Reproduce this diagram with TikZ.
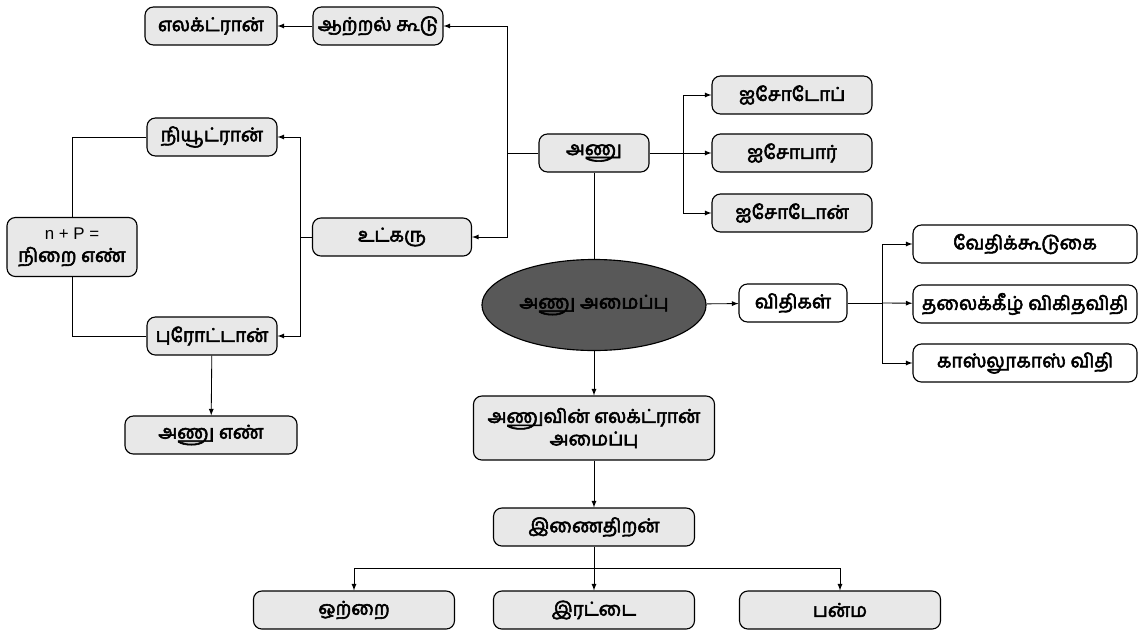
\documentclass[tikz,border=0pt]{standalone}
\usepackage{fontspec}
\newfontfamily\tamil[Script=Tamil,FakeBold=3]{Hind Madurai}
\newfontfamily\lsans{Liberation Sans}
\usetikzlibrary{shapes.geometric}
\definecolor{boxgray}{RGB}{232,232,232}
\definecolor{ovalgray}{RGB}{88,88,88}

\begin{document}
\begin{tikzpicture}[x=0.025cm,y=-0.025cm,>=latex,
  box/.style={draw,rounded corners=6pt,fill=boxgray,line width=0.8pt,
    minimum height=0.95cm,inner sep=2pt,align=center,
    font=\tamil\fontsize{13.5}{16}\selectfont},
  wbox/.style={box,fill=white},
  link/.style={line width=0.6pt}]
\useasboundingbox (0,0) rectangle (1141,632);

% top left
\node[box,minimum width=3.3cm] (elektron) at (211,26) {எலக்ட்ரான்};
\node[box,minimum width=3.25cm] (aatral) at (378,26) {ஆற்றல் கூடு};
\node[box,minimum width=3.25cm] (neutron) at (212,137) {நியூட்ரான்};
\node[box,minimum width=3.975cm] (udkaru) at (392,237) {உட்கரு};
\node[box,minimum width=3.25cm,minimum height=1.475cm] (nplus) at (72,247)
  {{\lsans\fontsize{12}{15}\selectfont n + P =}\\நிறை எண்};
\node[box,minimum width=3.25cm] (proton) at (212,336) {புரோட்டான்};
\node[box,minimum width=4.3cm] (anuen) at (211,435) {அணு எண்};

% centre
\node[box,minimum width=2.75cm] (anu) at (594,153) {அணு};
\node[draw,ellipse,fill=ovalgray,line width=0.8pt,minimum width=5.175cm,
  minimum height=2.275cm,font=\tamil\fontsize{13.5}{16}\selectfont] (struct) at (594,305) {அணு அமைப்பு};

% isotopes
\node[box,minimum width=4cm] (iso1) at (792,95) {ஐசோடோப்};
\node[box,minimum width=4cm] (iso2) at (792,153) {ஐசோபார்};
\node[box,minimum width=4cm] (iso3) at (792,213) {ஐசோடோன்};

% laws
\node[wbox,minimum width=2.7cm] (vithi) at (793,303) {விதிகள்};
\node[wbox,minimum width=5.6cm] (law1) at (1025,244) {வேதிக்கூடுகை};
\node[wbox,minimum width=5.6cm] (law2) at (1025,304) {தலைக்கீழ் விகிதவிதி};
\node[wbox,minimum width=5.6cm] (law3) at (1025,363) {காஸ்லூகாஸ் விதி};

% bottom
\node[box,minimum width=6.025cm,minimum height=1.6cm] (config) at (594,428)
  {அணுவின் எலக்ட்ரான்\\அமைப்பு};
\node[box,minimum width=5.025cm] (valency) at (594,527) {இணைதிறன்};
\node[box,minimum width=5.025cm] (val1) at (354,610) {ஒற்றை};
\node[box,minimum width=5.025cm] (val2) at (594,610) {இரட்டை};
\node[box,minimum width=5.025cm] (val3) at (840,610) {பன்ம};

\coordinate (jl) at (507,153);
\coordinate (jr) at (683,153);
\coordinate (jn) at (300,237);
\coordinate (jv) at (882,303);
\coordinate (jb) at (594,568);

\draw[link,->] (aatral) -- (elektron);
\draw[link] (anu.west) -- (jl);
\draw[link,->] (jl) |- (aatral);
\draw[link,->] (jl) |- (udkaru);
\draw[link] (anu.east) -- (jr);
\draw[link,->] (jr) |- (iso1);
\draw[link,->] (jr) -- (iso2);
\draw[link,->] (jr) |- (iso3);
\draw[link] (anu.south) -- (struct.north);

\draw[link] (udkaru.west) -- (jn);
\draw[link,->] (jn) |- (neutron);
\draw[link,->] (jn) |- (proton);
\draw[link] (neutron.west) -| (nplus.north);
\draw[link] (proton.west) -| (nplus.south);
\draw[link,->] (proton) -- (anuen);

\draw[link,->] (struct) -- (vithi);
\draw[link] (vithi.east) -- (jv);
\draw[link,->] (jv) |- (law1);
\draw[link,->] (jv) -- (law2);
\draw[link,->] (jv) |- (law3);

\draw[link,->] (struct) -- (config);
\draw[link,->] (config) -- (valency);
\draw[link] (valency) -- (jb);
\draw[link,->] (jb) -- (val2);
\draw[link,->] (jb) -| (val1);
\draw[link,->] (jb) -| (val3);
\end{tikzpicture}
\end{document}
